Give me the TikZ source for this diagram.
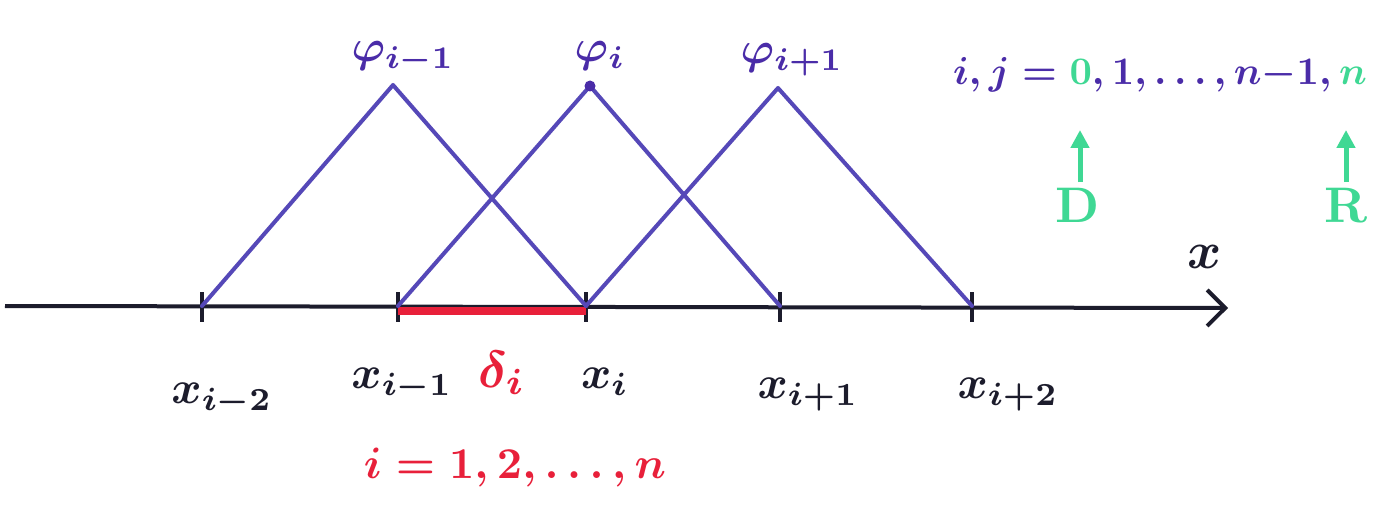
\documentclass[tikz,border=0pt]{standalone}
\usetikzlibrary{arrows.meta}
\definecolor{pur}{HTML}{4A2CA8}
\definecolor{lpur}{HTML}{5548B8}
\definecolor{grn}{HTML}{3FD894}
\definecolor{rd}{HTML}{E8203A}
\definecolor{blk}{HTML}{1C1C2C}
\newcommand{\Lb}[2][3.4]{\scalebox{#1}{\boldmath$#2$}}
\tikzset{
  hat/.style={draw=lpur,line width=4pt,line cap=round,line join=round},
  tick/.style={draw=blk,line width=4.5pt},
  lbl/.style={inner sep=0pt},
  blbl/.style={lbl,text=blk},
  plbl/.style={lbl,text=pur},
  garrow/.style={draw=grn,line width=5pt,-{Triangle[length=18pt,width=18pt]}},
}
\begin{document}
\begin{tikzpicture}[x=1pt,y=-1pt]
\useasboundingbox[fill=white] (0,0) rectangle (1376,508);
% axis
\coordinate (a0) at (5,306);
\coordinate (a1) at (1228,308);
\draw[draw=blk,line width=4pt,-{Straight Barb[length=18pt,width=36pt,line width=4pt]}] (a0) -- (a1);
% nodes on axis
\foreach \n/\x in {t1/202,t2/398,t3/586,t4/780,t5/972}{
  \coordinate (\n) at (\x,306);
  \draw[tick] (\x,292) -- (\x,322);
}
\coordinate (r0) at (398,311);
\coordinate (r1) at (586,311);
% peaks
\coordinate (p1) at (393,85);
\coordinate (p2) at (590,86);
\coordinate (p3) at (778,88);
% red segment
\draw[draw=rd,line width=8pt] (r0) -- (r1);
% hat functions
\draw[hat] (t1) -- (p1) -- (t3);
\draw[hat] (t2) -- (p2) -- (t4);
\draw[hat] (t3) -- (p3) -- (t5);
\fill[pur] (p2) circle (5.5pt);
% phi labels
\node[plbl] (f1) at (403,58) {\Lb[4.5]{\varphi_{i-1}}};
\node[plbl] (f2) at (600,56) {\Lb[4.5]{\varphi_{i}}};
\node[plbl] (f3) at (792,60) {\Lb[4.5]{\varphi_{i+1}}};
% x labels
\node[blbl] (x1) at (222,400) {\Lb[4.6]{x_{i-2}}};
\node[blbl] (x2) at (402,385) {\Lb[4.6]{x_{i-1}}};
\node[lbl,text=rd] (d) at (502,373) {\Lb[5.2]{\delta_i}};
\node[blbl] (x3) at (605,382) {\Lb[4.6]{x_i}};
\node[blbl] (x4) at (808,395) {\Lb[4.6]{x_{i+1}}};
\node[blbl] (x5) at (1008,395) {\Lb[4.6]{x_{i+2}}};
\node[lbl,text=rd] (rng) at (515,468) {\Lb[4.4]{i=1,2,\ldots,n}};
\node[blbl] (xa) at (1205,257) {\Lb[5.2]{x}};
% index set
\node[plbl] (ij) at (1160,75) {\Lb[3.9]{i,j=\textcolor{grn}{0},1,\ldots,n{-}1,\textcolor{grn}{n}}};
\node[lbl,text=grn] (D) at (1078,205) {\Lb[5]{\mathrm{D}}};
\node[lbl,text=grn] (R) at (1346,205) {\Lb[5]{\mathrm{R}}};
\coordinate (Dt) at (1080,130);
\coordinate (Rt) at (1346,130);
\coordinate (Db) at (1080,182);
\coordinate (Rb) at (1346,182);
\draw[garrow] (Db) -- (Dt);
\draw[garrow] (Rb) -- (Rt);
\end{tikzpicture}
\end{document}
